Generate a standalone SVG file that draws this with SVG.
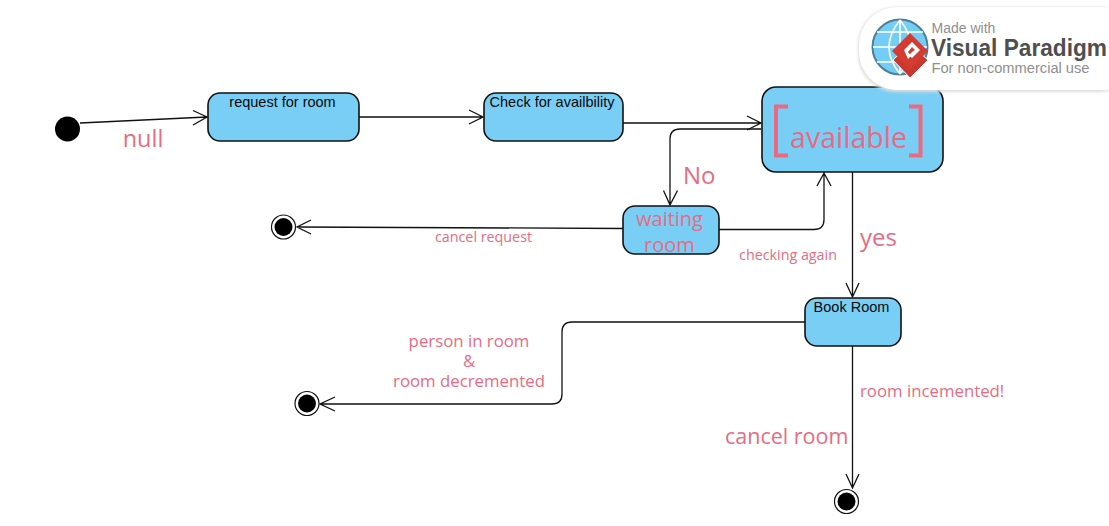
<svg xmlns="http://www.w3.org/2000/svg" width="1109" height="526" viewBox="0 0 1109 526">
<style>
.state{fill:#79cef5;stroke:#111;stroke-width:1.6}
.name{font:14.500px "Liberation Sans",Arial,sans-serif;fill:#0a0a0a;text-anchor:middle}
.pk{font-family:"Open Sans","Noto Sans",sans-serif;fill:#ea6a82}
.mid{text-anchor:middle}
.c{fill:none;stroke:#111;stroke-width:1.3}
.ring{fill:#fff;stroke:#111;stroke-width:1.2}
</style>
<defs>
<filter id="sh" x="-10%" y="-20%" width="120%" height="140%"><feGaussianBlur stdDeviation="1.500"/></filter>
</defs>
<rect width="1109" height="526" fill="#fff"/>
<g id="connectors">
<path class="c" d="M80 123L207 117M193 110.500L207 117L193 125"/>
<path class="c" d="M359 117H483M469 110L483 117L469 124"/>
<path class="c" d="M623 123H761M747 116L761 123L747 130"/>
<path class="c" d="M761 129H680Q670 129 670 139V205M663.500 190.500L670 205L677.500 190.500"/>
<path class="c" d="M719 229.500H814Q824 229.500 824 219.500V173M817 186L824 173L831 186"/>
<path class="c" d="M623 228.500L297 227M311 220L297 227L311 234"/>
<path class="c" d="M852.500 172V297M846 283L852.500 297L859 283"/>
<path class="c" d="M805 322H572Q562 322 562 332V394Q562 404 552 404H320M335 397L320 404L335 411"/>
<path class="c" d="M852.500 346V488M846 474L852.500 488L859 474"/>
</g>
<g id="start"><circle cx="67.500" cy="129" r="12.500" fill="#000"/></g>
<g id="request"><rect class="state" x="208" y="93" width="151" height="48" rx="12"/><text class="name" x="282.500" y="107">request for room</text></g>
<g id="check"><rect class="state" x="484" y="93" width="139" height="48" rx="12"/><text class="name" x="552" y="107">Check for availbility</text></g>
<g id="available"><rect class="state" x="762" y="87" width="181" height="85" rx="14"/>
<text class="pk mid" x="848.500" y="148" font-size="28.500">available</text>
<path d="M788 106.500H776V155.500H788M909 106.500H920.500V155.500H909" fill="none" stroke="#ea6a82" stroke-width="4"/></g>
<g id="waiting"><rect class="state" x="623" y="206" width="96" height="48" rx="12"/>
<text class="pk mid" x="669.500" y="226" font-size="20">waiting</text><text class="pk mid" x="669.500" y="252" font-size="20">room</text></g>
<g id="book"><rect class="state" x="805" y="298" width="96" height="48" rx="12"/><text class="name" x="851.500" y="312">Book Room</text></g>
<g id="end1"><circle class="ring" cx="283.500" cy="227" r="12"/><circle cx="283.500" cy="227" r="9"/></g>
<g id="end2"><circle class="ring" cx="307" cy="403.500" r="12"/><circle cx="307" cy="403.500" r="9"/></g>
<g id="end3"><circle class="ring" cx="846.500" cy="501.500" r="12"/><circle cx="846.500" cy="501.500" r="9"/></g>
<g id="labels">
<text class="pk mid" x="143" y="147" font-size="23.500">null</text>
<text class="pk" x="683" y="184" font-size="24">No</text>
<text class="pk" x="860" y="246" font-size="24">yes</text>
<text class="pk mid" x="483.500" y="242" font-size="14.300">cancel request</text>
<text class="pk mid" x="788" y="260" font-size="14.300">checking again</text>
<text class="pk mid" x="469" y="347" font-size="16.800">person in room</text>
<text class="pk mid" x="469" y="367" font-size="16.800">&amp;</text>
<text class="pk mid" x="469" y="387" font-size="16.800">room decremented</text>
<text class="pk" x="860" y="397" font-size="16.800">room incemented!</text>
<text class="pk" x="725" y="444" font-size="21.500">cancel room</text>
</g>
<g id="badge">
<rect x="858" y="7" width="280" height="85" rx="38" fill="#ddd" filter="url(#sh)"/>
<rect x="859" y="7" width="280" height="83" rx="38" fill="#fff"/>
<circle cx="900" cy="47" r="27.500" fill="#74cdf6" stroke="#4d7f96" stroke-width="2"/>
<path d="M873 47H927M900 20V74M877 32H923M877 62H923M900 20Q878 47 900 74M900 20Q922 47 900 74" fill="none" stroke="#fff" stroke-width="1.600"/>
<path d="M893 60L910 44L928 60L910 78Z" fill="#c8382e" stroke="#fff" stroke-width="1"/>
<path d="M892 51L910 33L928 51L910 69Z" fill="#d43c31"/>
<path d="M904 50L912 42L920 50L912 58L909 55L912 52L915 50L912 47L908 52L911 56L908 59Z" fill="#fff"/>
<text x="931.500" y="33" font-family="'Liberation Sans',sans-serif" font-size="14" fill="#8f8f8f">Made with</text>
<text x="931" y="55.500" font-family="'Liberation Sans',sans-serif" font-weight="700" font-size="23" fill="#4f4f4f" textLength="176" lengthAdjust="spacingAndGlyphs">Visual Paradigm</text>
<text x="931.500" y="73" font-family="'Liberation Sans',sans-serif" font-size="14" fill="#8f8f8f" textLength="158" lengthAdjust="spacingAndGlyphs">For non-commercial use</text>
</g>
</svg>
